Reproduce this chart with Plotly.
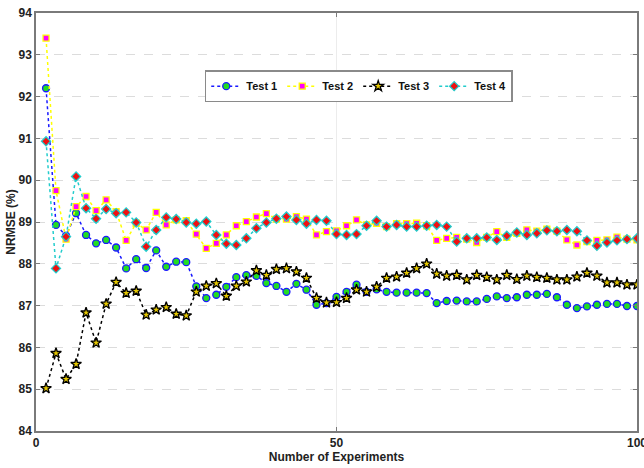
import plotly.graph_objects as go

x_vals = [1.67, 3.33, 5.0, 6.67, 8.33, 10.0, 11.67, 13.33, 15.0, 16.67,
          18.33, 20.0, 21.67, 23.33, 25.0, 26.67, 28.33, 30.0, 31.67, 33.33,
          35.0, 36.67, 38.33, 40.0, 41.67, 43.33, 45.0, 46.67, 48.33, 50.0,
          51.67, 53.33, 55.0, 56.67, 58.33, 60.0, 61.67, 63.33, 65.0, 66.67,
          68.33, 70.0, 71.67, 73.33, 75.0, 76.67, 78.33, 80.0, 81.67, 83.33,
          85.0, 86.67, 88.33, 90.0, 91.67, 93.33, 95.0, 96.67, 98.33, 100.0]

test1 = [92.20, 88.93, 88.67, 89.21, 88.69, 88.49, 88.57, 88.39, 87.89, 88.11,
         87.90, 88.32, 87.93, 88.05, 88.04, 87.46, 87.18, 87.26, 87.45, 87.68,
         87.73, 87.71, 87.54, 87.47, 87.33, 87.52, 87.38, 87.02, 87.06, 87.21,
         87.33, 87.50, 87.33, 87.39, 87.33, 87.31, 87.31, 87.31, 87.30, 87.06,
         87.11, 87.12, 87.10, 87.10, 87.16, 87.22, 87.18, 87.20, 87.26, 87.26,
         87.28, 87.20, 87.02, 86.94, 86.98, 87.02, 87.04, 87.04, 86.99, 86.99]

test2 = [93.40, 89.75, 88.59, 89.37, 89.61, 89.27, 89.53, 89.25, 88.56, 88.97,
         88.81, 89.23, 88.93, 89.05, 89.03, 88.71, 88.37, 88.49, 88.69, 88.91,
         89.01, 89.12, 89.20, 89.07, 89.07, 89.13, 89.07, 88.69, 88.77, 88.79,
         88.91, 89.05, 88.93, 88.97, 88.89, 88.96, 88.96, 88.97, 88.91, 88.56,
         88.61, 88.63, 88.59, 88.51, 88.63, 88.77, 88.63, 88.73, 88.81, 88.78,
         88.83, 88.78, 88.57, 88.45, 88.53, 88.56, 88.57, 88.64, 88.59, 88.57]

test3 = [85.02, 85.86, 85.24, 85.60, 86.83, 86.11, 87.04, 87.56, 87.30, 87.35,
         86.78, 86.90, 86.96, 86.80, 86.76, 87.33, 87.47, 87.53, 87.23, 87.47,
         87.57, 87.84, 87.73, 87.87, 87.89, 87.81, 87.66, 87.18, 87.07, 87.08,
         87.18, 87.38, 87.33, 87.45, 87.66, 87.69, 87.78, 87.89, 88.00, 87.76,
         87.71, 87.73, 87.62, 87.73, 87.68, 87.62, 87.73, 87.63, 87.71, 87.68,
         87.66, 87.62, 87.62, 87.69, 87.78, 87.71, 87.55, 87.55, 87.50, 87.50]

test4 = [90.93, 87.89, 88.65, 90.09, 89.33, 89.08, 89.31, 89.21, 89.23, 88.99,
         88.41, 88.81, 89.11, 89.07, 88.99, 88.96, 89.01, 88.69, 88.48, 88.45,
         88.61, 88.85, 88.99, 89.08, 89.13, 89.05, 88.96, 89.05, 89.03, 88.71,
         88.69, 88.71, 88.91, 89.03, 88.89, 88.93, 88.89, 88.89, 88.91, 88.93,
         88.89, 88.53, 88.61, 88.61, 88.63, 88.57, 88.67, 88.75, 88.69, 88.73,
         88.80, 88.78, 88.81, 88.78, 88.56, 88.43, 88.51, 88.56, 88.59, 88.61]

series_names = ["Test 1", "Test 2", "Test 3", "Test 4"]
x_ticks = [0, 50, 100]
y_ticks = [84, 85, 86, 87, 88, 89, 90, 91, 92, 93, 94]

styles = [
    dict(line="#1a1aff", fill="#22dd22", symbol="circle", size=7),
    dict(line="#ffff00", fill="#ff00ff", symbol="square", size=6),
    dict(line="#000000", fill="#e6c800", symbol="star", size=8),
    dict(line="#22cccc", fill="#ee1111", symbol="diamond", size=7),
]

FONT = "Liberation Sans Narrow, Arial Narrow, Liberation Sans, Arial, sans-serif"

fig = go.Figure()
for name, ys, st in zip(series_names, [test1, test2, test3, test4], styles):
    fig.add_trace(go.Scatter(
        x=x_vals, y=ys, name=name, mode="lines+markers",
        line=dict(color=st["line"], width=1.5, dash="dot"),
        marker=dict(symbol=st["symbol"], size=st["size"], color=st["fill"],
                    line=dict(color=st["line"], width=1.3)),
    ))

axis_common = dict(
    showline=True, linecolor="#7a7a7a", linewidth=1.5, mirror="ticks",
    ticks="inside", ticklen=4, tickcolor="#7a7a7a",
    tickfont=dict(family=FONT, size=12, color="#222", weight="bold"),
    zeroline=False, automargin=False, ticklabeloverflow="allow",
)

fig.update_xaxes(range=[0, 100], tickvals=x_ticks, showgrid=True,
                 gridcolor="#ececec", gridwidth=1,
                 title=dict(text="Number of Experiments", standoff=0,
                            font=dict(family=FONT, size=12, color="#222", weight="bold")),
                 **axis_common)
fig.update_yaxes(range=[84, 94], tickvals=y_ticks, showgrid=True,
                 gridcolor="#dcdcdc", griddash="dash", gridwidth=1,
                 title=dict(text="NRMSE (%)", standoff=0,
                            font=dict(family=FONT, size=12, color="#222", weight="bold")),
                 **axis_common)

fig.update_layout(
    width=644, height=468,
    margin=dict(l=36, r=7, t=13, b=37),
    paper_bgcolor="white", plot_bgcolor="white",
    showlegend=True,
    legend=dict(orientation="h", x=0.537, y=0.825, xanchor="center", yanchor="middle",
                bgcolor="white", bordercolor="#8a8a8a", borderwidth=1.5,
                font=dict(family=FONT, size=11, color="#111", weight="bold"),
                itemwidth=30, tracegroupgap=0),
)

fig.write_html("out.html", config={"displayModeBar": False},
               post_script="document.body.style.margin='0';document.body.style.overflow='hidden';")
